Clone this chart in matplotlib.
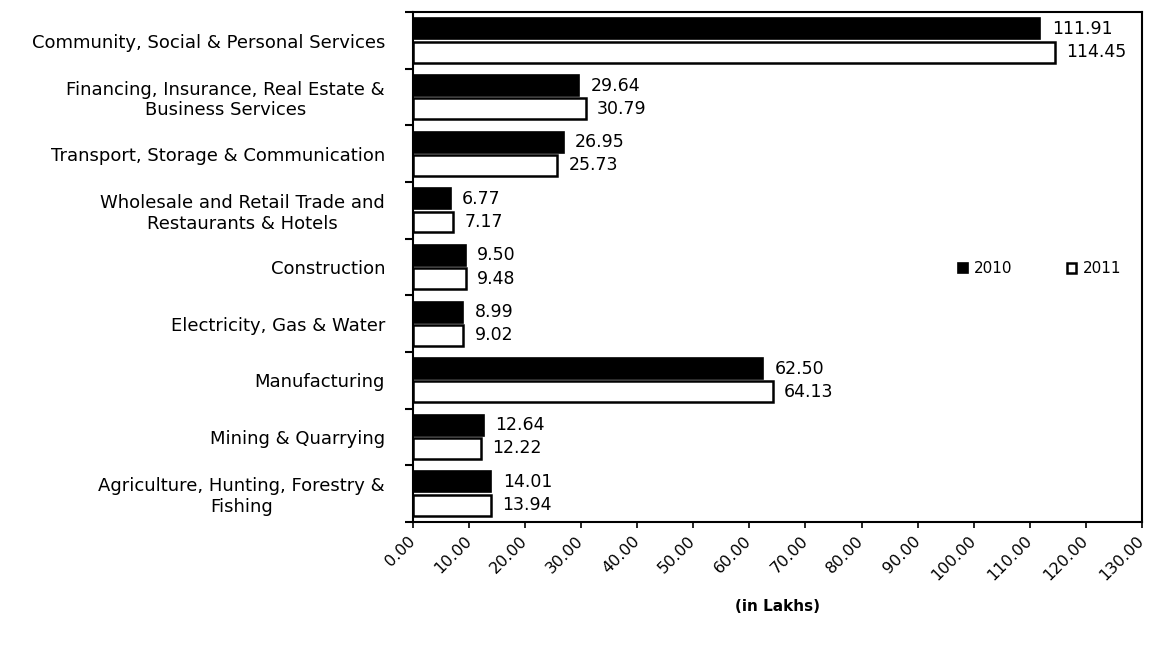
import numpy as np
import matplotlib.pyplot as plt
from matplotlib.ticker import FixedLocator

plt.rcParams.update({"font.family": ["DejaVu Sans"],
                     "font.size": 12})

# top to bottom as in the chart
categories = ["Community, Social & Personal Services",
              "Financing, Insurance, Real Estate &\nBusiness Services",
              "Transport, Storage & Communication",
              "Wholesale and Retail Trade and\nRestaurants & Hotels",
              "Construction",
              "Electricity, Gas & Water",
              "Manufacturing",
              "Mining & Quarrying",
              "Agriculture, Hunting, Forestry &\nFishing"]
v2010 = [111.91, 29.64, 26.95, 6.77, 9.50, 8.99, 62.50, 12.64, 14.01]
v2011 = [114.45, 30.79, 25.73, 7.17, 9.48, 9.02, 64.13, 12.22, 13.94]
xticks = np.arange(0, 131, 10)

fig = plt.figure(figsize=(11.5, 6.45), dpi=100)
ax = fig.add_axes([0.359, 0.191, 0.634, 0.790])

n = len(categories)
y = np.arange(n)
h = 0.37
ax.barh(y - h / 2 - 0.02, v2010, height=h, color="black", edgecolor="black",
        lw=1.2, label="2010")
ax.barh(y + h / 2 + 0.02, v2011, height=h, color="white", edgecolor="black",
        lw=1.8, label="2011")

for i in range(n):
    ax.text(v2010[i] + 2.0, y[i] - h / 2 - 0.02, "%.2f" % v2010[i],
            va="center", ha="left", fontsize=12.5)
    ax.text(v2011[i] + 2.0, y[i] + h / 2 + 0.02, "%.2f" % v2011[i],
            va="center", ha="left", fontsize=12.5)

ax.set_ylim(n - 0.5, -0.5)
ax.set_xlim(0, 130)
ax.set_yticks(y)
ax.set_yticklabels(categories, ha="right", multialignment="center", fontsize=13,
                   linespacing=1.15)
ax.yaxis.set_minor_locator(FixedLocator(np.arange(-0.5, n, 1)))
ax.tick_params(axis="y", which="major", length=0, pad=20)
ax.tick_params(axis="y", which="minor", length=6, width=1.5, direction="out")

ax.set_xticks(xticks)
ax.set_xticklabels(["%.2f" % t for t in xticks], rotation=45, ha="right",
                   va="center", rotation_mode="anchor", fontsize=11.5)
ax.tick_params(axis="x", length=4, width=1.2, direction="out", pad=8)
ax.set_xlabel("(in Lakhs)", fontsize=11, fontweight="bold", labelpad=11)

for s in ax.spines.values():
    s.set_linewidth(1.5)

ax.legend(loc="center right", bbox_to_anchor=(0.99, 0.497), ncol=2,
          frameon=False, fontsize=11, handlelength=0.6, handleheight=0.6,
          columnspacing=3.6, handletextpad=0.4)

plt.savefig("out.png", dpi=100)
